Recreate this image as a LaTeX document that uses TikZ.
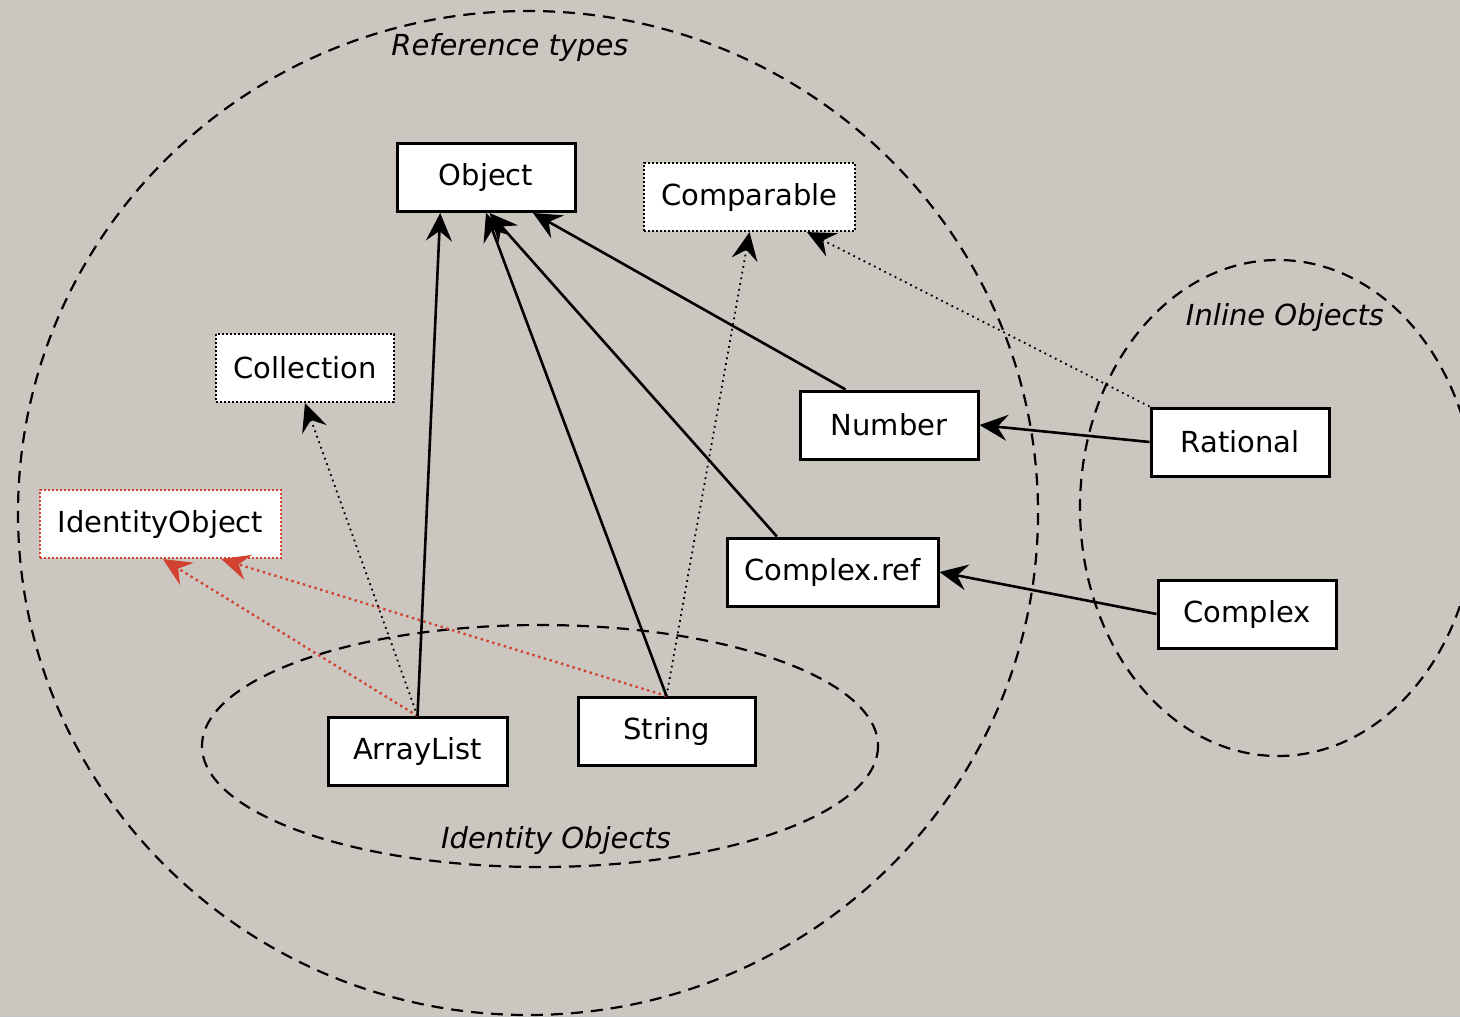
\documentclass[tikz,border=0pt]{standalone}
\usepackage{fontspec}
\setmainfont{DejaVu Sans}
\usetikzlibrary{arrows.meta,calc}
\definecolor{bg}{RGB}{203,198,192}
\definecolor{idred}{RGB}{210,66,48}
\begin{document}
\begin{tikzpicture}[x=0.5pt,y=-0.5pt,
  every node/.style={font=\fontsize{14.5}{17}\selectfont},
  cls/.style={draw=black,fill=white,line width=1.5pt,minimum height=34pt,inner sep=0pt},
  iface/.style={draw=black,fill=white,line width=1.1pt,dash pattern=on 1pt off 1pt,minimum height=34pt,inner sep=0pt},
  rediface/.style={draw=idred,fill=white,line width=1.1pt,dash pattern=on 1pt off 1pt,minimum height=34pt,inner sep=0pt},
  group/.style={draw=black,line width=1.1pt,dash pattern=on 6pt off 4pt},
  grouplabel/.style={font=\fontsize{14.5}{17}\selectfont\itshape},
  headtip/.style={-{Stealth[length=14pt,width=13pt,inset=5pt]}},
  extends/.style={line width=1.3pt,headtip},
  implements/.style={line width=0.9pt,dotted,headtip},
  redimpl/.style={draw=idred,line width=1.2pt,dash pattern=on 1.2pt off 1.8pt,headtip}]
  \useasboundingbox[fill=bg] (0,0) rectangle (1460,1017);

  % groupings
  \draw[group] (528,513) ellipse [x radius=510,y radius=502];
  \draw[group] (1278,508) ellipse [x radius=198,y radius=248];
  \draw[group] (540,746) ellipse [x radius=338,y radius=121];
  \node[grouplabel] (lref) at (510,47) {Reference types};
  \node[grouplabel] (linl) at (1285,317) {Inline Objects};
  \node[grouplabel] (lid) at (556,840) {Identity Objects};

  % types
  \node[cls,minimum width=89pt] (Object) at (486,177.5) {Object};
  \node[iface,minimum width=105.5pt] (Comparable) at (749.5,197) {Comparable};
  \node[iface,minimum width=89pt] (Collection) at (305,368) {Collection};
  \node[rediface,minimum width=120.5pt] (IdObj) at (160.5,524) {IdentityObject};
  \node[cls,minimum width=89pt] (Number) at (889,425) {Number};
  \node[cls,minimum width=89pt] (Rational) at (1240,442) {Rational};
  \node[cls,minimum width=105.5pt] (ComplexRef) at (832.5,572) {Complex.ref};
  \node[cls,minimum width=89pt] (Complex) at (1247,614) {Complex};
  \node[cls,minimum width=89.5pt] (ArrayList) at (417.5,751.5) {ArrayList};
  \node[cls,minimum width=88.5pt] (String) at (666.5,731.5) {String};

  % identity interface
  \draw[redimpl] (ArrayList.north) -- ($(IdObj.south west)!0.51!(IdObj.south east)$);
  \draw[redimpl] (String.north) -- ($(IdObj.south west)!0.75!(IdObj.south east)$);

  % superclasses
  \draw[extends] (ArrayList.north) -- ($(Object.south west)!0.247!(Object.south east)$);
  \draw[extends] (String.north) -- (Object.south);
  \draw[extends] ($(ComplexRef.north west)!0.24!(ComplexRef.north east)$) -- ($(Object.south west)!0.52!(Object.south east)$);
  \draw[extends] ($(Number.north west)!0.26!(Number.north east)$) -- ($(Object.south west)!0.76!(Object.south east)$);
  \draw[extends] (Rational.west) -- (Number.east);
  \draw[extends] (Complex.west) -- (ComplexRef.east);

  % interfaces
  \draw[implements] (ArrayList.north) -- (Collection.south);
  \draw[implements] (String.north) -- (Comparable.south);
  \draw[implements] (Rational.north west) -- ($(Comparable.south west)!0.77!(Comparable.south east)$);
\end{tikzpicture}
\end{document}
